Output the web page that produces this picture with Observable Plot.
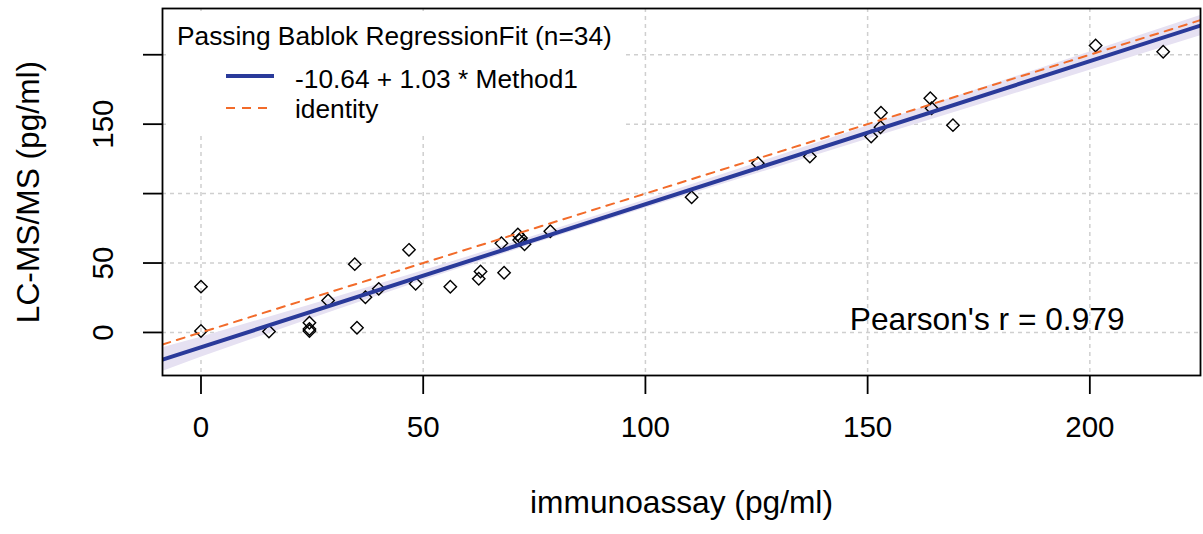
<!DOCTYPE html>
<html><head><meta charset="utf-8">
<script src="https://cdn.jsdelivr.net/npm/d3@7"></script>
<script src="https://cdn.jsdelivr.net/npm/@observablehq/plot@0.6"></script>
<style>
html,body{margin:0;padding:0;background:#fff;}
#wrap{position:relative;width:1203px;height:534px;font-family:"Liberation Sans",Arial,sans-serif;}
#legend{position:absolute;left:0;top:0;pointer-events:none;}
</style></head>
<body><div id="wrap"><div id="chart"></div></div>
<script>
// ---- data ----
const immunoassay = [0, 0, 15.3, 24.4, 24.4, 24.4, 28.6, 34.6, 35.1, 37.0, 40.0, 46.8, 48.3, 56.1, 62.5, 62.9, 67.6, 68.2, 71.3, 71.6, 72.8, 72.0, 78.6, 110.4, 125.3, 137.0, 150.8, 152.9, 153.0, 164.1, 164.4, 169.2, 201.3, 216.5];
const lcmsms      = [33, 1, 0.7, 7, 2.5, 1, 23, 49.2, 3.4, 25.4, 31.4, 59.5, 35.1, 32.9, 38.7, 43.9, 64.3, 43, 70.5, 66.5, 63.5, 68, 72.9, 97.4, 121.9, 126.7, 141.1, 147.8, 158.2, 168.7, 161.5, 149.3, 206.6, 202.1];

const intercept = -10.64;
const slope = 1.03;

// confidence band of the regression
const bandX    = [-8.66, 0, 25, 50, 75, 100, 125, 150, 175, 200, 224.9];
const bandLow  = [-28.1, -17.8, 10.1, 37.4, 63.8, 89.4, 114.3, 139.1, 163.8, 188.9, 213.7];
const bandHigh = [-11.1, -3.4, 20.1, 44.4, 69.4, 95.4, 121.9, 148.7, 175.4, 201.9, 228.3];

const xTicks = [0, 50, 100, 150, 200];
const yTicks = [0, 50, 100, 150, 200];
const yTickLabels = [0, 50, 150];

const xDomain = [-8.66, 224.9];
const yDomain = [-31, 233.3];

const xTitle = "immunoassay (pg/ml)";
const yTitle = "LC-MS/MS (pg/ml)";
const legendTitle = "Passing Bablok RegressionFit (n=34)";
const legendLabels = ["-10.64 + 1.03 * Method1", "identity"];
const pearson = {x: 176.9, y: 9.4, label: "Pearson's r = 0.979"};

const regColor = "#2a3a9a";
const idColor = "#f26b2a";
const bandColor = "#e6e1f2";
const gridColor = "#cfcfcf";

// ---- derived tables ----
const points = immunoassay.map((x, i) => ({x, y: lcmsms[i]}));
const band = bandX.map((x, i) => ({x, lo: bandLow[i], hi: bandHigh[i]}));
const regLine = xDomain.map(x => ({x, y: intercept + slope * x}));
const idLine = xDomain.map(x => ({x, y: x}));

const font = '"Liberation Sans", Arial, sans-serif';

const chart = Plot.plot({
  width: 1203, height: 534,
  marginLeft: 162, marginRight: 3, marginTop: 8, marginBottom: 159,
  x: {domain: xDomain},
  y: {domain: yDomain},
  style: {fontFamily: font, background: "#fff", color: "#000", overflow: "visible"},
  marks: [
    Plot.gridX({ticks: xTicks, stroke: gridColor, strokeOpacity: 1, strokeWidth: 1.5, strokeDasharray: "4,4"}),
    Plot.gridY({ticks: yTicks, stroke: gridColor, strokeOpacity: 1, strokeWidth: 1.5, strokeDasharray: "4,4"}),
    Plot.areaY(band, {x: "x", y1: "lo", y2: "hi", fill: bandColor, clip: true}),
    Plot.dot(points, {x: "x", y: "y", symbol: "diamond2", r: 5.6, stroke: "#000", strokeWidth: 1.4, fill: "none"}),
    Plot.line(idLine, {x: "x", y: "y", stroke: idColor, strokeWidth: 2, strokeDasharray: "8,7", clip: true}),
    Plot.line(regLine, {x: "x", y: "y", stroke: regColor, strokeWidth: 4, clip: true}),
    Plot.frame({stroke: "#000", strokeWidth: 1.8}),
    Plot.axisX({ticks: xTicks, tickSize: 19, tickFormat: () => "", label: null, strokeWidth: 1.8}),
    Plot.axisY({ticks: yTicks, tickSize: 19, tickFormat: () => "", label: null, strokeWidth: 1.8}),
    Plot.text(xTicks, {x: d => d, frameAnchor: "bottom", dy: 61.6, text: d => String(d), fontSize: 29.5, fill: "#000", textAnchor: "middle"}),
    Plot.text(yTickLabels, {y: d => d, frameAnchor: "left", dx: -59.4, rotate: -90, text: d => String(d), fontSize: 29.5, fill: "#000", textAnchor: "middle"}),
    Plot.text([xTitle], {frameAnchor: "bottom", dy: 137, text: d => d, fontSize: 31.7, fill: "#000", textAnchor: "middle"}),
    Plot.text([yTitle], {frameAnchor: "left", dx: -134, rotate: -90, text: d => d, fontSize: 31.7, fill: "#000", textAnchor: "middle"}),
    Plot.text([pearson], {x: "x", y: "y", text: "label", fontSize: 31.7, fill: "#000"})
  ]
});
document.getElementById("chart").appendChild(chart);

// ---- legend (inside the plot, top-left, white background, no border) ----
const lg = d3.select("#wrap").append("svg").attr("id", "legend")
  .attr("width", 1203).attr("height", 534)
  .style("font-family", font);
lg.append("rect").attr("x", 167).attr("y", 11).attr("width", 458).attr("height", 121).attr("fill", "#fff");
lg.append("text").attr("x", 177).attr("y", 45).attr("font-size", 26.3).attr("fill", "#000").text(legendTitle);
const rows = [
  {label: legendLabels[0], color: regColor, width: 4, dash: null, ly: 76, ty: 88},
  {label: legendLabels[1], color: idColor, width: 2, dash: "9,7", ly: 108, ty: 118}
];
rows.forEach(r => {
  lg.append("line").attr("x1", 226).attr("x2", 274).attr("y1", r.ly).attr("y2", r.ly)
    .attr("stroke", r.color).attr("stroke-width", r.width).attr("stroke-dasharray", r.dash);
  lg.append("text").attr("x", 295).attr("y", r.ty).attr("font-size", 26.3).attr("fill", "#000").text(r.label);
});
</script>
</body></html>
